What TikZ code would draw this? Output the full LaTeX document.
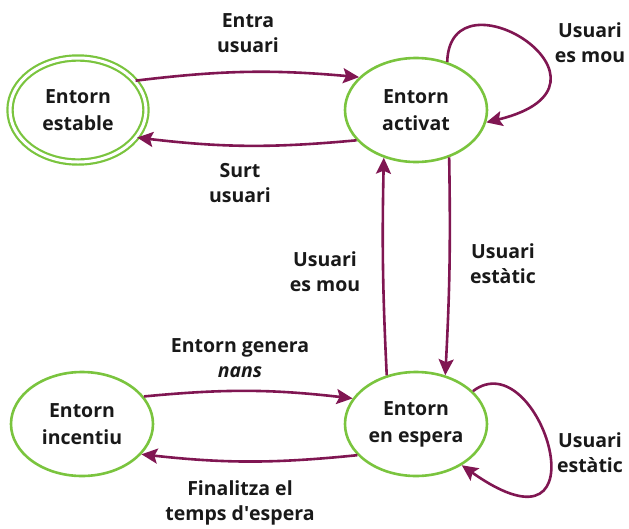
\documentclass[tikz,border=0pt]{standalone}
\usepackage{fontspec}
\setmainfont{Open Sans}
\usetikzlibrary{shapes.geometric,arrows.meta}
\definecolor{stgreen}{RGB}{122,196,62}
\definecolor{trpurple}{RGB}{128,22,82}
\definecolor{txt}{RGB}{25,25,25}
\tikzset{
  state/.style={ellipse,draw=stgreen,line width=2.6pt,minimum width=142pt,minimum height=104pt,inner sep=0pt,align=center,font=\fontsize{19.5}{27}\selectfont\bfseries,text=txt},
  trans/.style={draw=trpurple,line width=2.6pt,-{Stealth[length=16pt,width=15pt,inset=3pt]}},
  lbl/.style={align=center,font=\fontsize{19.5}{25}\selectfont\bfseries,text=txt,inner sep=0pt}
}
\begin{document}
\begin{tikzpicture}[x=1pt,y=-1pt]
\useasboundingbox (0,0) rectangle (629,528);
\node[state,double=white,double distance=3pt,line width=2.2pt,minimum width=136pt,minimum height=104pt] (est) at (78,110) {Entorn\\estable};
\node[state] (act) at (416,110) {Entorn\\activat};
\node[state] (esp) at (416,424) {Entorn\\en espera};
\node[state] (inc) at (82,424) {Entorn\\incentiu};

\draw[trans] (est.27) to[bend left=6] (act.150);
\draw[trans] (act.207) to[bend left=6] (est.-25);
\draw[trans] (inc.24) to[bend left=6] (esp.158);
\draw[trans] (esp.-152) to[bend left=6] (inc.-27);
\draw[trans] (act.-55) to[bend left=2] (esp.59);
\draw[trans] (esp.121) to[bend left=2] (act.-124);
\draw[trans] (act.57) .. controls (450,-35) and (640,85) .. (act.-10);
\draw[trans] (esp.30) .. controls (540,340) and (610,570) .. (esp.-42);

\node[lbl] (l1) at (248,33) {Entra\\usuari};
\node[lbl] (l2) at (240,183) {Surt\\usuari};
\node[lbl] (l3) at (590,43) {Usuari\\es mou};
\node[lbl] (l4) at (503,264) {Usuari\\estàtic};
\node[lbl] (l5) at (325,272) {Usuari\\es mou};
\node[lbl] (l6) at (240,358) {Entorn genera\\\textit{nans}};
\node[lbl] (l7) at (240,503) {Finalitza el\\temps d\textquotesingle espera};
\node[lbl] (l8) at (590,453) {Usuari\\estàtic};
\end{tikzpicture}
\end{document}
